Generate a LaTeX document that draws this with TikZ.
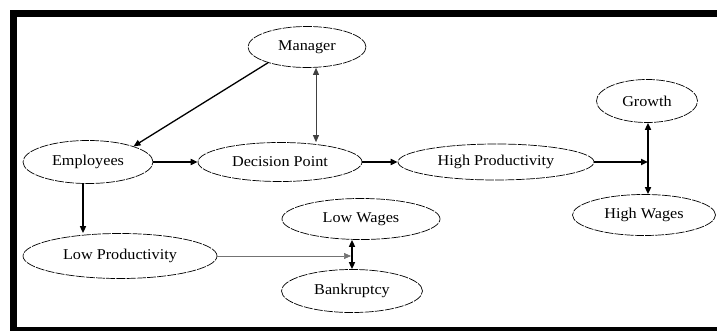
\documentclass[tikz,border=0pt]{standalone}
\usepackage{fontspec}
\setmainfont{Liberation Serif}
\usetikzlibrary{shapes.geometric,arrows.meta}
\begin{document}
\begin{tikzpicture}[x=1pt,y=-1pt,
  every node/.style={font=\fontsize{15}{18}\selectfont},
  lbl/.style={},
  oval/.style={ellipse,draw=black,line width=0.7pt,dash pattern=on 9pt off 1.2pt,inner sep=0pt},
  tip/.style={-{Triangle[length=7pt,width=6pt]}},
  dtip/.style={{Triangle[length=7pt,width=6pt]}-{Triangle[length=7pt,width=6pt]}},
  conn/.style={line width=1.5pt,black},
  thinconn/.style={line width=0.9pt,black!75},
  faint/.style={line width=0.6pt,black!55}]
\useasboundingbox (0,0) rectangle (717,331);
% frame
\fill[black] (10,10) rectangle (717,17);
\fill[black] (10,10) rectangle (16.5,331);
\fill[black] (10,327) rectangle (717,331);
% nodes
\node[oval,minimum width=118pt,minimum height=41pt] (Manager) at (307,47) {\scalebox{1.08}[1]{Manager}};
\node[oval,minimum width=130pt,minimum height=43pt] (Employees) at (88,162) {\scalebox{1.08}[1]{Employees}};
\node[oval,minimum width=164pt,minimum height=39pt] (DP) at (280,162) {\scalebox{1.08}[1]{Decision Point}};
\node[oval,minimum width=196pt,minimum height=36pt] (HP) at (496,162) {\scalebox{1.08}[1]{High Productivity}};
\node[oval,minimum width=101pt,minimum height=43pt] (Growth) at (647,101) {\scalebox{1.08}[1]{Growth}};
\node[oval,minimum width=143pt,minimum height=41pt] (HW) at (644,215) {\scalebox{1.08}[1]{High Wages}};
\node[oval,minimum width=158pt,minimum height=41pt] (LW) at (361,219) {\scalebox{1.08}[1]{Low Wages}};
\node[oval,minimum width=141pt,minimum height=43pt] (Bank) at (352,291) {\scalebox{1.08}[1]{Bankruptcy}};
\node[oval,minimum width=194pt,minimum height=45pt] (LP) at (120,256) {\scalebox{1.08}[1]{Low Productivity}};
% helper coordinates
\coordinate (mx) at (316,0);
\coordinate (ex) at (83,0);
\coordinate (gx) at (648,0);
\coordinate (bx) at (352,0);
\coordinate (gw) at (648,162);
\coordinate (lb) at (351,256);
% connectors
\draw[conn,line width=1.3pt,tip] (Manager.202) -- (Employees.19);
\draw[thinconn,dtip] (Manager.south -| mx) -- (DP.north -| mx);
\draw[conn,line width=2pt,tip] (Employees.east) -- (DP.west);
\draw[conn,line width=2pt,tip] (DP.east) -- (HP.west);
\draw[conn,line width=1.8pt,tip] (HP.east) -- (gw);
\draw[conn,line width=1.6pt,dtip] (Growth.south -| gx) -- (HW.north -| gx);
\draw[conn,tip] (Employees.south -| ex) -- (LP.north -| ex);
\draw[conn,dtip] (LW.south -| bx) -- (Bank.north -| bx);
\draw[faint,tip] (LP.east) -- (lb);
\end{tikzpicture}
\end{document}
